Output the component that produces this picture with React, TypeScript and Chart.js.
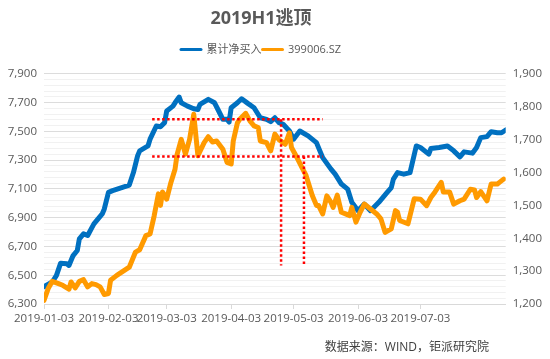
import React, { useEffect, useRef } from "react";
import { Chart, registerables } from "chart.js";

Chart.register(...registerables);

// ---------- data ----------
const seriesNames = ["累计净买入", "399006.SZ"];

const netBuyDates = [
  "2019-01-03", "2019-01-07", "2019-01-09", "2019-01-11", "2019-01-14", "2019-01-15", "2019-01-17", "2019-01-19",
  "2019-01-20", "2019-01-22", "2019-01-24", "2019-01-27", "2019-01-31", "2019-02-01", "2019-02-03", "2019-02-05",
  "2019-02-13", "2019-02-15", "2019-02-17", "2019-02-18", "2019-02-22", "2019-02-23", "2019-02-26", "2019-02-28",
  "2019-03-02", "2019-03-03", "2019-03-06", "2019-03-07", "2019-03-09", "2019-03-10", "2019-03-13", "2019-03-16",
  "2019-03-18", "2019-03-19", "2019-03-23", "2019-03-26", "2019-03-28", "2019-03-30", "2019-04-01", "2019-04-02",
  "2019-04-03", "2019-04-06", "2019-04-08", "2019-04-11", "2019-04-14", "2019-04-17", "2019-04-20", "2019-04-22",
  "2019-04-24", "2019-04-26", "2019-04-28", "2019-05-01", "2019-05-03", "2019-05-06", "2019-05-10", "2019-05-14",
  "2019-05-17", "2019-05-21", "2019-05-23", "2019-05-26", "2019-05-29", "2019-05-31", "2019-06-03", "2019-06-06",
  "2019-06-09", "2019-06-13", "2019-06-17", "2019-06-19", "2019-06-20", "2019-06-22", "2019-06-25", "2019-06-28",
  "2019-07-01", "2019-07-03", "2019-07-07", "2019-07-08", "2019-07-12", "2019-07-16", "2019-07-19", "2019-07-22",
  "2019-07-24", "2019-07-28", "2019-07-30", "2019-08-01", "2019-08-04", "2019-08-06", "2019-08-09", "2019-08-11",
  "2019-08-13",
];
const netBuyValues = [
  6420, 6453, 6499, 6584, 6580, 6568, 6637, 6672,
  6753, 6788, 6776, 6857, 6926, 6961, 7076, 7088,
  7127, 7214, 7330, 7365, 7399, 7446, 7538, 7533,
  7561, 7642, 7676, 7699, 7739, 7699, 7676, 7658,
  7653, 7688, 7723, 7699, 7642, 7584, 7584, 7565,
  7665, 7699, 7727, 7695, 7665, 7595, 7584, 7568,
  7595, 7561, 7550, 7503, 7446, 7503, 7469, 7422,
  7318, 7238, 7203, 7134, 7099, 7007, 6949, 6995,
  6949, 7007, 7076, 7110, 7169, 7214, 7203, 7214,
  7399, 7388, 7342, 7381, 7388, 7399, 7365, 7323,
  7358, 7349, 7388, 7457, 7464, 7498, 7491, 7491,
  7510,
];

const indexDates = [
  "2019-01-03", "2019-01-05", "2019-01-07", "2019-01-10", "2019-01-12", "2019-01-15", "2019-01-16", "2019-01-18",
  "2019-01-20", "2019-01-22", "2019-01-24", "2019-01-26", "2019-01-28", "2019-01-30", "2019-02-01", "2019-02-03",
  "2019-02-04", "2019-02-07", "2019-02-13", "2019-02-16", "2019-02-18", "2019-02-21", "2019-02-23", "2019-02-25",
  "2019-02-27", "2019-02-28", "2019-03-01", "2019-03-03", "2019-03-05", "2019-03-07", "2019-03-08", "2019-03-10",
  "2019-03-12", "2019-03-14", "2019-03-16", "2019-03-18", "2019-03-21", "2019-03-23", "2019-03-25", "2019-03-27",
  "2019-03-30", "2019-04-01", "2019-04-03", "2019-04-04", "2019-04-06", "2019-04-07", "2019-04-10", "2019-04-12",
  "2019-04-14", "2019-04-16", "2019-04-17", "2019-04-20", "2019-04-22", "2019-04-24", "2019-04-26", "2019-04-29",
  "2019-05-01", "2019-05-02", "2019-05-05", "2019-05-07", "2019-05-09", "2019-05-12", "2019-05-14", "2019-05-15",
  "2019-05-17", "2019-05-19", "2019-05-21", "2019-05-22", "2019-05-24", "2019-05-26", "2019-05-28", "2019-05-30",
  "2019-05-31", "2019-06-02", "2019-06-04", "2019-06-06", "2019-06-09", "2019-06-12", "2019-06-14", "2019-06-16",
  "2019-06-19", "2019-06-21", "2019-06-22", "2019-06-23", "2019-06-27", "2019-06-30", "2019-07-03", "2019-07-06",
  "2019-07-08", "2019-07-10", "2019-07-13", "2019-07-14", "2019-07-17", "2019-07-19", "2019-07-22", "2019-07-24",
  "2019-07-27", "2019-07-29", "2019-07-30", "2019-08-01", "2019-08-04", "2019-08-06", "2019-08-09", "2019-08-10",
  "2019-08-12",
];
const indexValues = [
  1211, 1247, 1269, 1262, 1257, 1245, 1267, 1249,
  1269, 1274, 1252, 1262, 1259, 1252, 1229, 1232,
  1272, 1287, 1312, 1358, 1365, 1408, 1413, 1469,
  1535, 1500, 1541, 1519, 1569, 1610, 1655, 1701,
  1656, 1701, 1777, 1651, 1691, 1709, 1693, 1696,
  1671, 1631, 1626, 1696, 1751, 1761, 1780, 1757,
  1742, 1737, 1696, 1691, 1666, 1717, 1700, 1686,
  1721, 1676, 1641, 1616, 1591, 1530, 1500, 1500,
  1474, 1529, 1509, 1494, 1531, 1479, 1474, 1469,
  1494, 1449, 1479, 1504, 1489, 1474, 1459, 1418,
  1429, 1484, 1479, 1454, 1444, 1520, 1519, 1499,
  1524, 1541, 1570, 1541, 1541, 1504, 1514, 1519,
  1549, 1547, 1524, 1542, 1514, 1565, 1565, 1570,
  1580,
];

const xTickLabels = ["2019-01-03", "2019-02-03", "2019-03-03", "2019-04-03", "2019-05-03", "2019-06-03", "2019-07-03"];
const xEndDate = "2019-08-13";

// red dotted markers (left-axis values)
const bandDates = ["2019-02-24", "2019-05-17"];
const bandLevels = [7584, 7325];
const dropDates = ["2019-04-27", "2019-05-08"];
const dropFloor = 6568;

const titleText = "2019H1逃顶";
const sourceText = "数据来源：WIND，钜派研究院";

// ---------- helpers ----------
const BLUE = "#0070C0";
const ORANGE = "#FF9A00";
const RED = "#FF0000";
const FONT = '"Open Sans", "Noto Sans CJK SC", sans-serif';

const startMs = Date.UTC(2019, 0, 3);
const dayOf = (s: string) => {
  const [y, m, d] = s.split("-").map(Number);
  return Math.round((Date.UTC(y, m - 1, d) - startMs) / 86400000);
};
const toPoints = (dates: string[], vals: number[]) => dates.map((d, i) => ({ x: dayOf(d), y: vals[i] }));
const fmt = (v: number) => Number(v).toLocaleString("en-US");

// extra space below the legend, and header centred a little left of the canvas centre
const headerTweak = {
  id: "headerTweak",
  afterInit(chart: any) {
    const lg = chart.legend;
    if (!lg) return;
    const orig = lg.fit;
    lg.fit = function () {
      orig.call(this);
      this.height += 8.8;
    };
  },
  afterLayout(chart: any) {
    if (chart.titleBlock) chart.titleBlock.right -= 28;
    if (chart.legend) chart.legend.right -= 28;
  },
};

export default function App() {
  const ref = useRef<HTMLCanvasElement | null>(null);

  useEffect(() => {
    if (!ref.current) return;
    const tickDays = xTickLabels.map(dayOf);
    const dotted = {
      borderColor: RED,
      borderWidth: 2.5,
      borderDash: [2.5, 2.5],
      pointRadius: 0,
      yAxisID: "y",
      order: 0,
      fill: false,
    };
    const chart = new Chart(ref.current, {
      type: "line",
      plugins: [headerTweak],
      data: {
        datasets: [
          {
            label: seriesNames[0],
            data: toPoints(netBuyDates, netBuyValues),
            yAxisID: "y",
            borderColor: BLUE,
            backgroundColor: BLUE,
            borderWidth: 5,
            pointRadius: 0,
            tension: 0,
            borderJoinStyle: "round",
            borderCapStyle: "round",
            order: 2,
          },
          {
            label: seriesNames[1],
            data: toPoints(indexDates, indexValues),
            yAxisID: "y1",
            borderColor: ORANGE,
            backgroundColor: ORANGE,
            borderWidth: 5,
            pointRadius: 0,
            tension: 0,
            borderJoinStyle: "round",
            borderCapStyle: "round",
            order: 1,
          },
          ...bandLevels.map((lv) => ({
            ...dotted,
            label: "band",
            data: [
              { x: dayOf(bandDates[0]), y: lv },
              { x: dayOf(bandDates[1]), y: lv },
            ],
          })),
          ...dropDates.map((d, i) => ({
            ...dotted,
            label: "drop",
            data: [
              { x: dayOf(d), y: bandLevels[i] },
              { x: dayOf(d), y: dropFloor },
            ],
          })),
        ],
      },
      options: {
        responsive: false,
        animation: false,
        layout: { padding: { left: 0, right: 0, top: 0, bottom: 31 } },
        plugins: {
          tooltip: { enabled: false },
          title: {
            display: true,
            text: titleText,
            color: "#595959",
            font: { family: FONT, size: 18, weight: "bold" },
            padding: { top: 8.5, bottom: 13 },
          },
          legend: {
            display: true,
            position: "top",
            labels: {
              usePointStyle: true,
              pointStyle: "line",
              pointStyleWidth: 20,
              color: "#595959",
              font: { family: FONT, size: 11 },
              padding: 1,
              filter: (item: any) => item.datasetIndex < 2,
              sort: (a: any, b: any) => a.datasetIndex - b.datasetIndex,
              generateLabels: (chart: any) => {
                const items = Chart.defaults.plugins.legend.labels.generateLabels(chart);
                items.forEach((it: any) => {
                  it.lineWidth = 3;
                  it.lineCap = "round";
                });
                return items;
              },
            },
          },
        },
        scales: {
          x: {
            type: "linear",
            min: 0,
            max: dayOf(xEndDate),
            afterBuildTicks: (scale: any) => {
              scale.ticks = tickDays.map((v) => ({ value: v }));
            },
            afterFit: (scale: any) => {
              scale.height = 24;
            },
            ticks: {
              autoSkip: false,
              maxRotation: 0,
              padding: 3,
              color: "#595959",
              font: { family: FONT, size: 11.5 },
              callback: (v: any) => {
                const i = tickDays.indexOf(Number(v));
                return i >= 0 ? xTickLabels[i] : "";
              },
            },
            grid: {
              display: true,
              drawOnChartArea: false,
              drawTicks: true,
              tickLength: 5,
              color: "#d9d9d9",
            },
            border: { display: true, color: "#d9d9d9" },
          },
          y: {
            position: "left",
            min: 6300,
            max: 7900,
            afterFit: (scale: any) => {
              scale.width = 44;
            },
            ticks: {
              stepSize: 40,
              autoSkip: false,
              padding: 7,
              color: "#595959",
              font: { family: FONT, size: 11.5 },
              callback: (v: any) => ((Number(v) - 6300) % 200 === 0 ? fmt(v) : ""),
            },
            grid: {
              drawTicks: false,
              color: (ctx: any) => ((ctx.tick.value - 6300) % 200 === 0 ? "#dcdcdc" : "#f1f1f1"),
            },
            border: { display: false },
          },
          y1: {
            position: "right",
            min: 1200,
            max: 1900,
            afterFit: (scale: any) => {
              scale.width = 44.3;
            },
            ticks: {
              stepSize: 100,
              padding: 7,
              color: "#595959",
              font: { family: FONT, size: 11.5 },
              callback: (v: any) => fmt(v),
            },
            grid: { display: false, drawTicks: false },
            border: { display: false },
          },
        },
      },
    } as any);
    return () => chart.destroy();
  }, []);

  return (
    <div style={{ position: "absolute", left: 0, top: 0, width: 550, height: 359, background: "#fff" }}>
      <canvas ref={ref} width={550} height={359} style={{ display: "block" }} />
      <div
        style={{
          position: "absolute",
          right: 61,
          top: 339,
          fontFamily: FONT,
          fontSize: 12,
          lineHeight: "15px",
          color: "#404040",
          whiteSpace: "nowrap",
        }}
      >
        {sourceText}
      </div>
    </div>
  );
}
